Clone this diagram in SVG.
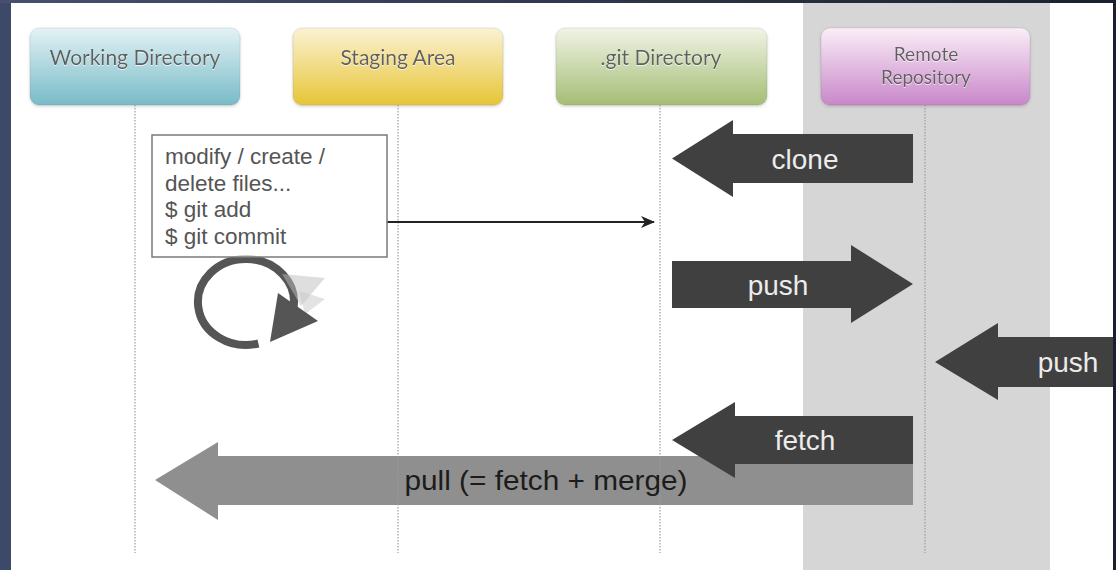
<svg xmlns="http://www.w3.org/2000/svg" width="1116" height="570" viewBox="0 0 1116 570">
  <defs>
    <linearGradient id="gWD" x1="0" y1="0" x2="0" y2="1">
      <stop offset="0" stop-color="#e3f2f5"/>
      <stop offset="1" stop-color="#78bbc8"/>
    </linearGradient>
    <linearGradient id="gSA" x1="0" y1="0" x2="0" y2="1">
      <stop offset="0" stop-color="#fbf2d4"/>
      <stop offset="1" stop-color="#e7c536"/>
    </linearGradient>
    <linearGradient id="gGD" x1="0" y1="0" x2="0" y2="1">
      <stop offset="0" stop-color="#f1f4e6"/>
      <stop offset="1" stop-color="#a4bd75"/>
    </linearGradient>
    <linearGradient id="gRR" x1="0" y1="0" x2="0" y2="1">
      <stop offset="0" stop-color="#faeef7"/>
      <stop offset="1" stop-color="#c987c9"/>
    </linearGradient>
    <linearGradient id="gTop" x1="0" y1="0" x2="1" y2="0">
      <stop offset="0" stop-color="#46516f"/>
      <stop offset="1" stop-color="#1b202d"/>
    </linearGradient>
    <marker id="ah" viewBox="0 0 14 12" refX="13" refY="6" markerWidth="14" markerHeight="12" markerUnits="userSpaceOnUse" orient="auto">
      <path d="M0,0 L14,6 L0,12 L4,6 Z" fill="#222"/>
    </marker>
    <filter id="sh" x="-5%" y="-10%" width="110%" height="130%">
      <feDropShadow dx="0" dy="1.5" stdDeviation="1.5" flood-color="#000" flood-opacity="0.18"/>
    </filter>
    <filter id="emb" x="-5%" y="-20%" width="110%" height="150%">
      <feDropShadow dx="0" dy="1" stdDeviation="0.4" flood-color="#fff" flood-opacity="0.7"/>
    </filter>
  </defs>
  <style>
    .node rect { stroke: rgba(0,0,0,0.08); stroke-width: 1; }
    .nlabel { font-family: Lato, "Open Sans", sans-serif; font-size: 21px; fill: #5f5f5f; text-anchor: middle; }
    .nlabel2 { font-family: Lato, "Open Sans", sans-serif; font-size: 19px; fill: #5f5f5f; text-anchor: middle; }
    .life { stroke: #9c9c9c; stroke-width: 1.2; stroke-dasharray: 1.5 1.5; fill: none; }
    .big { fill: #404040; }
    .blabel { font-family: "Liberation Sans", Arial, sans-serif; font-size: 28px; fill: #ececec; text-anchor: middle; }
    .note { font-family: "Liberation Sans", Arial, sans-serif; font-size: 22.5px; fill: #555; }
  </style>

  <!-- frame -->
  <rect x="0" y="0" width="1116" height="570" fill="#3d4968"/>
  <rect x="0" y="0" width="1116" height="3" fill="url(#gTop)"/>
  <rect x="1113" y="0" width="3" height="570" fill="#1b202d"/>
  <rect x="11" y="3" width="1102" height="567" fill="#ffffff"/>
  <rect x="803" y="3" width="247" height="567" fill="#d6d6d6"/>

  <!-- nodes -->
  <g id="working-directory" class="node">
    <rect x="30" y="28" width="210" height="77" rx="9" fill="url(#gWD)" filter="url(#sh)"/>
    <text class="nlabel" x="135" y="65" filter="url(#emb)">Working Directory</text>
  </g>
  <g id="staging-area" class="node">
    <rect x="293" y="28" width="210" height="77" rx="9" fill="url(#gSA)" filter="url(#sh)"/>
    <text class="nlabel" x="398" y="65" filter="url(#emb)">Staging Area</text>
  </g>
  <g id="git-directory" class="node">
    <rect x="556" y="28" width="211" height="77" rx="9" fill="url(#gGD)" filter="url(#sh)"/>
    <text class="nlabel" x="661" y="65" filter="url(#emb)">.git Directory</text>
  </g>
  <g id="remote-repository" class="node">
    <rect x="821" y="28" width="209" height="77" rx="9" fill="url(#gRR)" filter="url(#sh)"/>
    <text class="nlabel2" x="926" y="61" filter="url(#emb)">Remote</text>
    <text class="nlabel2" x="926" y="84" filter="url(#emb)">Repository</text>
  </g>

  <!-- pull arrow (behind lifelines) -->
  <g id="pull">
    <path d="M913,456 L218,456 L218,442 L155,480 L218,520 L218,505 L913,505 Z" fill="#8f8f8f"/>
    <text x="546" y="490" font-family="Liberation Sans, Arial, sans-serif" font-size="28" fill="#1c1c1c" text-anchor="middle" textLength="283" lengthAdjust="spacingAndGlyphs">pull (= fetch + merge)</text>
  </g>

  <!-- connectors -->
  <g id="connectors">
    <line class="life" x1="135" y1="105" x2="135" y2="553"/>
    <line class="life" x1="398" y1="105" x2="398" y2="553"/>
    <line class="life" x1="660" y1="105" x2="660" y2="553"/>
    <line class="life" x1="925" y1="105" x2="925" y2="553"/>

    <!-- local cycle -->
    <path d="M258.4,343.5 A48,43 0 1 1 293.3,309" fill="none" stroke="#555" stroke-width="8"/>
    <polygon points="282,274 325,278 301,306" fill="#bdbdbd" opacity="0.5"/>
    <polygon points="299,291 325,299 305,314" fill="#c8c8c8" opacity="0.5"/>
    <polygon points="278,293 318,321 270,342" fill="#555"/>

    <line x1="387" y1="222" x2="654" y2="222" stroke="#222" stroke-width="2" marker-end="url(#ah)"/>
  </g>

  <g id="note">
    <rect x="152" y="135" width="235" height="122" fill="#ffffff" fill-opacity="0.7" stroke="#7a7a7a" stroke-width="1.5"/>
    <text class="note" x="165" y="164">modify / create /</text>
    <text class="note" x="165" y="191">delete files...</text>
    <text class="note" x="165" y="217">$ git add</text>
    <text class="note" x="165" y="244">$ git commit</text>
  </g>

  <g id="clone">
    <path class="big" d="M913,134 L733,134 L733,120 L672,158.5 L733,197 L733,183 L913,183 Z"/>
    <text class="blabel" x="805" y="169">clone</text>
  </g>
  <g id="push-local">
    <path class="big" d="M672,261 L851,261 L851,245 L913,284 L851,323 L851,308 L672,308 Z"/>
    <text class="blabel" x="778" y="295">push</text>
  </g>
  <g id="push-remote">
    <path class="big" d="M1113,337 L998,337 L998,323 L935,362 L998,400 L998,387 L1113,387 Z"/>
    <text class="blabel" x="1068" y="372">push</text>
  </g>
  <g id="fetch">
    <path class="big" d="M913,416 L735,416 L735,402 L672,440 L735,478 L735,464 L913,464 Z"/>
    <text class="blabel" x="805" y="450">fetch</text>
  </g>
</svg>
